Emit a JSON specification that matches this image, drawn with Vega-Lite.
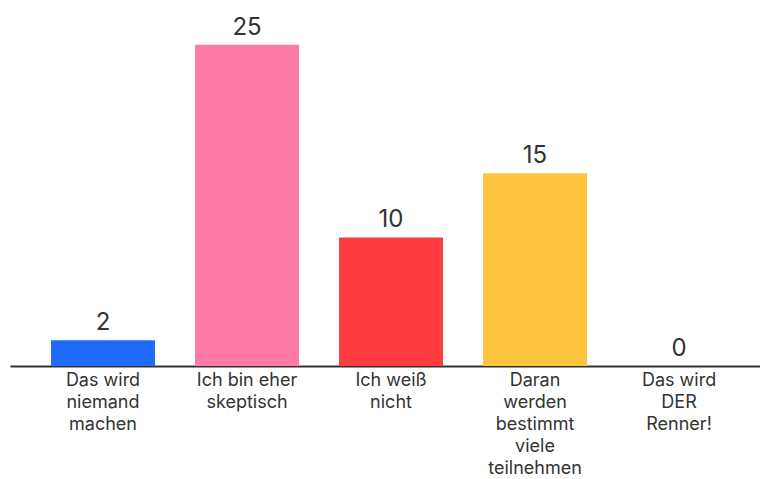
{
  "$schema": "https://vega.github.io/schema/vega-lite/v6.json",
  "autosize": "none",
  "width": 750,
  "height": 347,
  "padding": {"left": 10, "top": 19, "right": 0, "bottom": 113},
  "background": "#ffffff",
  "data": {"values": [
    {"label": "Das wird|niemand|machen", "value": 2, "color": "#1f6bfb"},
    {"label": "Ich bin eher|skeptisch", "value": 25, "color": "#fd7aa8"},
    {"label": "Ich weiß|nicht", "value": 10, "color": "#fd3d3f"},
    {"label": "Daran|werden|bestimmt|viele|teilnehmen", "value": 15, "color": "#fdc33c"},
    {"label": "Das wird|DER|Renner!", "value": 0, "color": "#cccccc"}
  ]},
  "encoding": {
    "x": {
      "field": "label", "type": "nominal", "sort": null,
      "scale": {"paddingInner": 0.278, "paddingOuter": 0.243, "align": 0.586},
      "axis": {
        "title": null, "ticks": false, "labelAngle": 0,
        "labelExpr": "split(datum.label, '|')",
        "labelFont": "Inter", "labelFontSize": 18, "labelColor": "#333333",
        "labelLineHeight": 22, "labelPadding": 5, "labelBaseline": "top",
        "domainColor": "#333333", "domainWidth": 2
      }
    },
    "y": {
      "field": "value", "type": "quantitative",
      "scale": {"domain": [0, 27], "nice": false},
      "axis": null
    }
  },
  "layer": [
    {"mark": {"type": "bar"}, "encoding": {"color": {"field": "color", "type": "nominal", "scale": null}}},
    {"mark": {"type": "text", "baseline": "alphabetic", "dy": -10, "font": "Inter", "fontSize": 24, "color": "#333333"},
     "encoding": {"text": {"field": "value", "type": "quantitative"}}}
  ],
  "config": {"view": {"stroke": null}}
}
